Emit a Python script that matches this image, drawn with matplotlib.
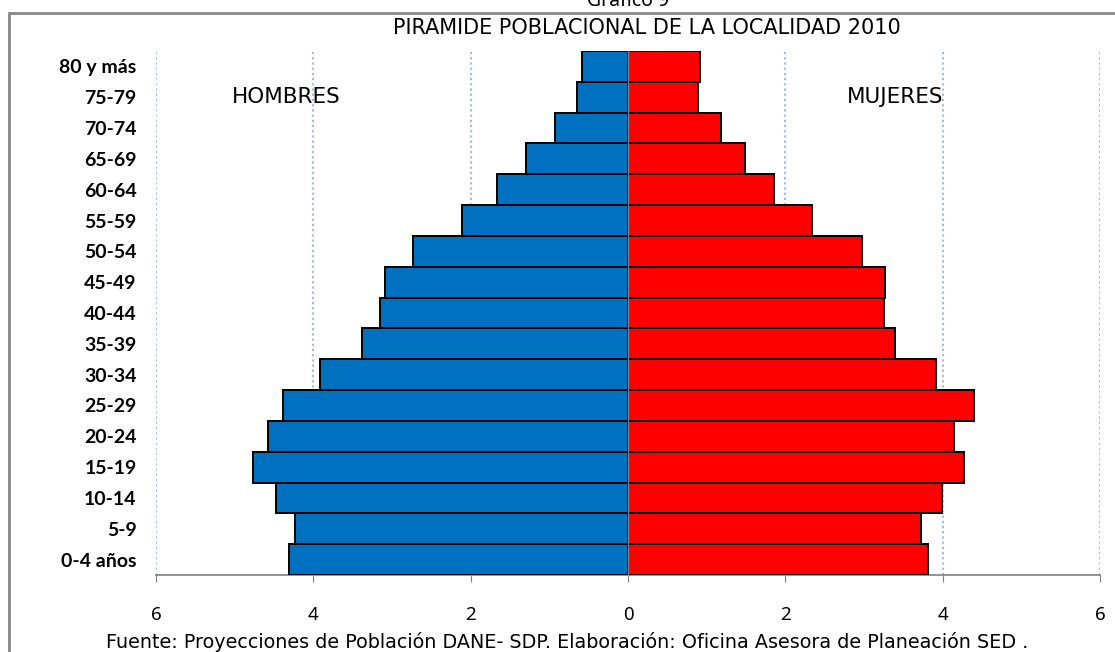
import numpy as np
import matplotlib.pyplot as plt
from matplotlib.patches import Rectangle

grupos = ['0-4 años', '5-9', '10-14', '15-19', '20-24', '25-29', '30-34',
          '35-39', '40-44', '45-49', '50-54', '55-59', '60-64', '65-69',
          '70-74', '75-79', '80 y más']
hombres = [4.31, 4.23, 4.48, 4.77, 4.57, 4.38, 3.91, 3.38, 3.15, 3.09,
           2.73, 2.11, 1.66, 1.30, 0.93, 0.65, 0.59]
mujeres = [3.81, 3.72, 3.99, 4.27, 4.15, 4.40, 3.91, 3.40, 3.25, 3.27,
           2.98, 2.34, 1.85, 1.49, 1.18, 0.89, 0.91]
xticks = [-6, -4, -2, 0, 2, 4, 6]

fig = plt.figure(figsize=(11.15, 6.52), dpi=100)
ax = fig.add_axes([156 / 1115, 1 - 575 / 652, 944 / 1115, 524 / 652])

y = np.arange(len(grupos))
ax.barh(y, -np.array(hombres), height=1.0, color='#0070C0',
        edgecolor='black', linewidth=1.4, zorder=3)
ax.barh(y, mujeres, height=1.0, color='#FF0000',
        edgecolor='black', linewidth=1.4, zorder=3)

ax.set_xlim(-6, 6)
ax.set_ylim(-0.5, len(grupos) - 0.5)

# grid
for xv in xticks:
    if xv != 0:
        ax.axvline(xv, color='#9DB9E8', linestyle=(0, (1, 1.5)), linewidth=1.5, zorder=1)
ax.axvline(0, color='#808080', linewidth=1, zorder=4)

ax.set_xticks(xticks, [str(abs(v)) for v in xticks])
ax.set_yticks(y, grupos)
for lab in ax.get_yticklabels():
    lab.set_fontfamily('Lato')
    lab.set_fontweight('bold')
    lab.set_fontsize(14)
for lab in ax.get_xticklabels():
    lab.set_fontfamily('Noto Sans')
    lab.set_fontsize(13.5)
ax.tick_params(axis='y', length=0, pad=14)
ax.tick_params(axis='x', length=5, color='#808080', pad=17, direction='out')

for s in ['top', 'right', 'left']:
    ax.spines[s].set_visible(False)
ax.spines['bottom'].set_color('#808080')
ax.spines['bottom'].set_linewidth(1.2)

ax.text(-4.35, 15, 'HOMBRES', ha='center', va='center', fontsize=15.5,
        family='DejaVu Sans', zorder=5)
ax.text(3.40, 15, 'MUJERES', ha='center', va='center', fontsize=15.5,
        family='DejaVu Sans', zorder=5)

fig.text(647 / 1115, 1 - 28 / 652, 'PIRAMIDE POBLACIONAL DE LA LOCALIDAD 2010',
         ha='center', va='center', fontsize=15, family='DejaVu Sans')
fig.text(628 / 1115, 1 - 6 / 652, 'Grafico 9', ha='center', va='baseline',
         fontsize=14, family='Noto Sans')
fig.text(567 / 1115, 1 - 642 / 652,
         'Fuente: Proyecciones de Población DANE- SDP. Elaboración: Oficina Asesora de Planeación SED .',
         ha='center', va='center', fontsize=13.8, family='DejaVu Sans')

# marco
fig.patches.append(Rectangle((9 / 1115, -0.1), 1.2, 1 - 12.5 / 652 + 0.1,
                             transform=fig.transFigure, fill=False,
                             edgecolor='#888888', linewidth=2))

fig.savefig('out.png', dpi=100)
